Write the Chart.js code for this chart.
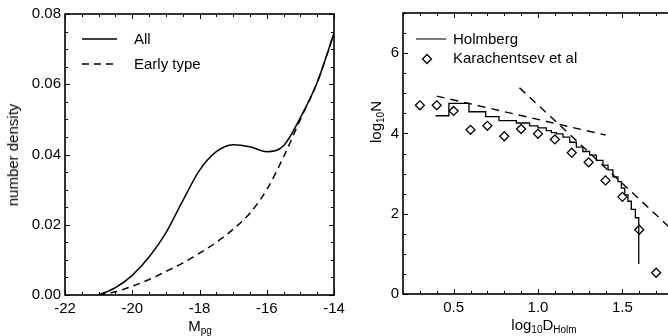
<!DOCTYPE html>
<html>
<head>
<meta charset="utf-8">
<script src="https://cdn.jsdelivr.net/npm/chart.js@4/dist/chart.umd.min.js"></script>
<style>
  html, body { margin: 0; padding: 0; background: #fff; overflow: hidden; }
  #page { position: relative; width: 668px; height: 336px; overflow: hidden;
          font-family: "Liberation Sans", Arial, sans-serif; color: #000; }
  canvas { position: absolute; top: 0; }
  #lumChart { left: 0; }
  #sizeChart { left: 340px; }
  .txt { position: absolute; font-size: 15px; line-height: 16px; white-space: nowrap; z-index: 2; }
  .txt sub { font-size: 10px; vertical-align: -3px; line-height: 0; }
  .rot { transform: translate(-50%, -50%) rotate(-90deg); }
  .ctr { transform: translateX(-50%); }
  svg.key { position: absolute; z-index: 2; overflow: visible; }
</style>
</head>
<body>
<div id="page">
  <canvas id="lumChart" width="360" height="336"></canvas>
  <canvas id="sizeChart" width="340" height="336"></canvas>

  <!-- left panel: axis titles and key -->
  <div class="txt rot" style="left:13px; top:155px;">number density</div>
  <div class="txt ctr" style="left:200px; top:318px;">M<sub>pg</sub></div>
  <svg class="key" style="left:0; top:0;" width="1" height="1">
    <line x1="82" y1="39" x2="117" y2="39" stroke="#000" stroke-width="1.5"/>
    <line x1="82" y1="64" x2="117" y2="64" stroke="#000" stroke-width="1.5" stroke-dasharray="7 5"/>
  </svg>
  <div class="txt" style="left:134px; top:31px;">All</div>
  <div class="txt" style="left:134px; top:56px;">Early type</div>

  <!-- right panel: axis titles and key -->
  <div class="txt rot" style="left:376px; top:122px;">log<sub>10</sub>N</div>
  <div class="txt ctr" style="left:544px; top:317px;">log<sub>10</sub>D<sub>Holm</sub></div>
  <svg class="key" style="left:0; top:0;" width="1" height="1">
    <line x1="416" y1="39" x2="446" y2="39" stroke="#333" stroke-width="1.3"/>
    <polygon points="427,54.5 431.5,59 427,63.5 422.5,59" fill="none" stroke="#000" stroke-width="1.3"/>
  </svg>
  <div class="txt" style="left:453px; top:31px;">Holmberg</div>
  <div class="txt" style="left:453px; top:50px;">Karachentsev et al</div>
</div>

<script>
// ---- Luminosity function (left panel) ----
const magnitudes   = [-21.0, -20.5, -20.0, -19.5, -19.0, -18.5, -18.0, -17.5, -17.0, -16.5, -16.0, -15.5, -15.0, -14.5, -14.0];
const densityAll   = [0.0000, 0.0021, 0.0056, 0.0108, 0.0177, 0.0268, 0.0355, 0.0408, 0.0428, 0.0422, 0.0408, 0.0425, 0.0505, 0.0605, 0.0745];
const densityEarly = [0.0000, 0.0009, 0.0025, 0.0044, 0.0067, 0.0091, 0.0119, 0.0150, 0.0187, 0.0233, 0.0300, 0.0393, 0.0500, 0.0605, 0.0745];
const magnitudeTicks = [-22, -20, -18, -16, -14];
const densityTicks   = [0.00, 0.02, 0.04, 0.06, 0.08];

// ---- Diameter distribution (right panel) ----
const karachentsevLogD = [0.3, 0.4, 0.5, 0.6, 0.7, 0.8, 0.9, 1.0, 1.1, 1.2, 1.3, 1.4, 1.5, 1.6, 1.7];
const karachentsevLogN = [4.70, 4.70, 4.56, 4.09, 4.19, 3.93, 4.11, 3.99, 3.85, 3.52, 3.28, 2.83, 2.42, 1.60, 0.53];
// Holmberg histogram: each level runs from the previous edge to this edge
const holmbergLogD = [0.393, 0.472, 0.591, 0.690, 0.769, 0.872, 0.950, 1.000, 1.049, 1.079, 1.109, 1.148, 1.188, 1.227, 1.266, 1.306, 1.346, 1.385, 1.415, 1.444, 1.474, 1.494, 1.514, 1.533, 1.553, 1.577, 1.597];
const holmbergLogN = [4.44, 4.75, 4.54, 4.42, 4.32, 4.26, 4.19, 4.14, 4.07, 4.02, 3.99, 3.91, 3.78, 3.66, 3.55, 3.46, 3.33, 3.21, 3.09, 2.92, 2.80, 2.64, 2.47, 2.31, 2.11, 1.90, 0.75];
const fitShallowLogD = [0.40, 1.40];
const fitShallowLogN = [4.93, 3.96];
const fitSteepLogD   = [0.89, 1.80];
const fitSteepLogN   = [5.14, 1.58];
const logDTicks = [0.5, 1.0, 1.5];
const logNTicks = [0, 2, 4, 6];

const pts = (xs, ys) => xs.map((x, i) => ({ x, y: ys[i] }));
const FONT = { family: '"Liberation Sans", Arial, sans-serif', size: 15 };

// Box frame with inward major/minor tick marks on all four sides
const frameTicks = {
  id: 'frameTicks',
  afterDatasetsDraw(chart, args, o) {
    const { ctx, chartArea: a } = chart;
    const sx = chart.scales.x, sy = chart.scales.y;
    ctx.save();
    ctx.strokeStyle = '#000';
    ctx.lineWidth = 1;
    const marks = (scale, step, len, horiz) => {
      const k0 = Math.ceil(scale.min / step - 1e-6), k1 = Math.floor(scale.max / step + 1e-6);
      for (let k = k0; k <= k1; k++) {
        const p = Math.round(scale.getPixelForValue(k * step)) + 0.5;
        ctx.beginPath();
        if (horiz) {
          ctx.moveTo(p, a.bottom); ctx.lineTo(p, a.bottom - len);
          ctx.moveTo(p, a.top);    ctx.lineTo(p, a.top + len);
        } else {
          ctx.moveTo(a.left, p);  ctx.lineTo(a.left + len, p);
          ctx.moveTo(a.right, p); ctx.lineTo(a.right - len, p);
        }
        ctx.stroke();
      }
    };
    marks(sx, o.xMinor, 3, true);
    marks(sx, o.xMajor, 5, true);
    marks(sy, o.yMinor, 3, false);
    marks(sy, o.yMajor, 5, false);
    ctx.lineWidth = 1.6;
    ctx.strokeRect(a.left, a.top, a.right - a.left, a.bottom - a.top);
    ctx.restore();
  }
};

const axis = (min, max, tickVals, fmt, fitSize, horiz) => ({
  type: 'linear', min, max,
  grid: { display: false, drawTicks: false },
  border: { display: false },
  ticks: { font: FONT, color: '#000', padding: horiz ? 5 : 4, autoSkip: false, maxRotation: 0, callback: fmt },
  afterBuildTicks: s => { s.ticks = tickVals.map(v => ({ value: v })); },
  afterFit: s => { if (horiz) s.height = fitSize; else s.width = fitSize; }
});

const common = {
  responsive: false, animation: false, events: [],
  plugins: { legend: { display: false }, tooltip: { enabled: false } },
};

new Chart(document.getElementById('lumChart'), {
  type: 'scatter',
  data: {
    datasets: [
      { data: pts(magnitudes, densityAll), showLine: true, borderColor: '#000', borderWidth: 1.5,
        pointRadius: 0, cubicInterpolationMode: 'monotone' },
      { data: pts(magnitudes, densityEarly), showLine: true, borderColor: '#000', borderWidth: 1.5,
        borderDash: [7, 5], pointRadius: 0, cubicInterpolationMode: 'monotone' }
    ]
  },
  options: {
    ...common,
    layout: { padding: { left: 0, top: 14, right: 26, bottom: 0 } },
    scales: {
      x: axis(-22, -14, magnitudeTicks, v => String(v), 41, true),
      y: axis(0, 0.08, densityTicks, v => v.toFixed(2), 65, false)
    },
    plugins: { ...common.plugins, frameTicks: { xMajor: 2, xMinor: 0.5, yMajor: 0.02, yMinor: 0.005 } }
  },
  plugins: [frameTicks]
});

new Chart(document.getElementById('sizeChart'), {
  type: 'scatter',
  data: {
    datasets: [
      { data: pts(holmbergLogD, holmbergLogN), showLine: true, stepped: 'before', borderColor: '#000',
        borderWidth: 1.3, pointRadius: 0 },
      { data: pts(fitShallowLogD, fitShallowLogN), showLine: true, borderColor: '#000', borderWidth: 1.4,
        borderDash: [8, 6], pointRadius: 0 },
      { data: pts(fitSteepLogD, fitSteepLogN), showLine: true, borderColor: '#000', borderWidth: 1.4,
        borderDash: [8, 6], pointRadius: 0 },
      { data: pts(karachentsevLogD, karachentsevLogN), showLine: false, pointStyle: 'rectRot',
        pointRadius: 4.5, borderColor: '#000', borderWidth: 1.3, backgroundColor: 'rgba(255,255,255,0)' }
    ]
  },
  options: {
    ...common,
    layout: { padding: { left: 0, top: 9, right: 7, bottom: 0 } },
    scales: {
      x: axis(0.2, 1.8, logDTicks, v => v.toFixed(1), 42, true),
      y: axis(0, 7, logNTicks, v => String(v), 63, false)
    },
    plugins: { ...common.plugins, frameTicks: { xMajor: 0.5, xMinor: 0.1, yMajor: 2, yMinor: 0.5 } }
  },
  plugins: [frameTicks]
});
</script>
</body>
</html>
